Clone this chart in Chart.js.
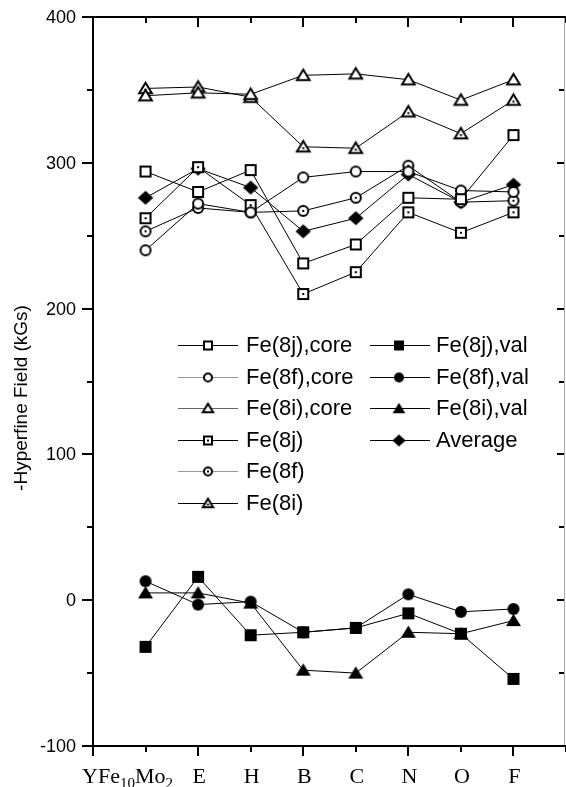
<!DOCTYPE html>
<html><head><meta charset="utf-8">
<script src="https://cdn.jsdelivr.net/npm/chart.js@4"></script>
<style>html,body{margin:0;padding:0;background:#fff;overflow:hidden;} canvas{display:block;}</style>
</head><body>
<canvas id="c" width="566" height="787" style="width:566px;height:787px"></canvas>
<script>
// ---- data ----
const categories = ['YFe10Mo2','E','H','B','C','N','O','F'];
const xPositions = [1,2,3,4,5,6,7,8];
const yTickValues = [-100,0,100,200,300,400];
const fe8jCore = [294, 280, 295, 231, 244, 276, 275, 319];
const fe8fCore = [240, 272, 266, 290, 294, 294, 281, 280];
const fe8iCore = [346, 348, 347, 360, 361, 357, 343, 357];
const fe8j     = [262, 297, 271, 210, 225, 266, 252, 266];
const fe8f     = [253, 269, 266, 267, 276, 298, 273, 274];
const fe8i     = [351, 352, 345, 311, 310, 335, 320, 343];
const fe8jVal  = [-32, 16, -24, -22, -19, -9, -23, -54];
const fe8fVal  = [13, -3, -1, -22, -19, 4, -8, -6];
const fe8iVal  = [5, 5, -2, -48, -50, -22, -23, -14];
const average  = [276, 296, 283, 253, 262, 292, 273, 285];
const seriesLabels = ['Fe(8j),core','Fe(8f),core','Fe(8i),core','Fe(8j)','Fe(8f)','Fe(8i)',
                      'Fe(8j),val','Fe(8f),val','Fe(8i),val','Average'];

// ---- markers ----
function makeMarker(shape, variant, sz){
  const S = Math.ceil(sz + 6);
  const c = document.createElement('canvas'); c.width = S; c.height = S;
  const g = c.getContext('2d');
  const cx = S/2, cy = S/2, r = sz/2;
  g.beginPath();
  if (shape === 'square') g.rect(cx-r, cy-r, sz, sz);
  else if (shape === 'circle') g.arc(cx, cy, r, 0, Math.PI*2);
  else if (shape === 'triangle') { g.moveTo(cx, cy-r*1.05); g.lineTo(cx+r*1.15, cy+r*0.85); g.lineTo(cx-r*1.15, cy+r*0.85); g.closePath(); }
  else if (shape === 'diamond') { g.moveTo(cx, cy-r*1.0); g.lineTo(cx+r*1.1, cy); g.lineTo(cx, cy+r*1.0); g.lineTo(cx-r*1.1, cy); g.closePath(); }
  if (variant === 'fill') { g.fillStyle = '#000'; g.fill(); }
  else {
    g.fillStyle = '#fff'; g.fill();
    g.lineWidth = 2; g.strokeStyle = '#000'; g.lineJoin = 'miter'; g.stroke();
    if (variant === 'dot') {
      g.fillStyle = '#000';
      const dy = shape === 'triangle' ? r*0.25 : 0;
      g.fillRect(cx-1, cy-1+dy, 2, 2);
    }
  }
  return c;
}
const styles = [
  ['square','open',10,'#000'], ['circle','open',10,'#999'], ['triangle','open',11,'#666'],
  ['square','dot',10,'#000'], ['circle','dot',10,'#999'], ['triangle','dot',11,'#000'],
  ['square','fill',12,'#000'], ['circle','fill',12,'#000'], ['triangle','fill',13,'#000'], ['diamond','fill',14,'#000']
];
const seriesData = [fe8jCore, fe8fCore, fe8iCore, fe8j, fe8f, fe8i, fe8jVal, fe8fVal, fe8iVal, average];
const pointImgs = styles.map(s => makeMarker(s[0], s[1], s[2]));
const legendImgs = styles.map(s => makeMarker(s[0], s[1], s[2]-2));

const datasets = seriesData.map((arr, i) => ({
  label: seriesLabels[i],
  data: arr.map((v, j) => ({x: xPositions[j], y: v})),
  borderColor: '#000', borderWidth: 1, tension: 0,
  pointStyle: pointImgs[i], pointRadius: 6, pointHoverRadius: 6,
  fill: false
}));

// ---- custom drawing: axes, ticks, labels, legend ----
const decor = {
  id: 'decor',
  afterDraw(chart) {
    const ctx = chart.ctx, a = chart.chartArea;
    const xs = chart.scales.x, ys = chart.scales.y;
    const rx = a.right - 2;
    ctx.save();
    // frame
    ctx.strokeStyle = '#aaa'; ctx.lineWidth = 1;
    ctx.beginPath(); ctx.moveTo(rx + 0.5, a.top); ctx.lineTo(rx + 0.5, a.bottom); ctx.stroke();
    ctx.strokeStyle = '#000'; ctx.lineWidth = 2;
    ctx.beginPath();
    ctx.moveTo(a.left, a.top); ctx.lineTo(a.right, a.top);
    ctx.moveTo(a.left, a.bottom); ctx.lineTo(a.right, a.bottom);
    ctx.moveTo(a.left, a.top-1); ctx.lineTo(a.left, a.bottom+1);
    ctx.stroke();
    // y ticks + labels
    ctx.lineWidth = 2;
    ctx.font = '18px "Liberation Sans"'; ctx.textAlign = 'right'; ctx.textBaseline = 'middle'; ctx.fillStyle = '#000';
    for (let v = -100; v <= 400; v += 50) {
      const y = Math.round(ys.getPixelForValue(v));
      const major = yTickValues.includes(v);
      ctx.strokeStyle = '#000';
      ctx.beginPath(); ctx.moveTo(a.left - (major ? 11 : 6), y); ctx.lineTo(a.left, y); ctx.stroke();
      ctx.beginPath(); ctx.moveTo(rx, y); ctx.lineTo(rx - (major ? 7 : 5), y); ctx.stroke();
      if (major) ctx.fillText(String(v), a.left - 17, y + 1);
    }
    // x ticks
    for (let v = 0; v <= 9; v++) {
      const x = Math.round(xs.getPixelForValue(v));
      const major = v % 2 === 0;
      ctx.beginPath(); ctx.moveTo(x, a.bottom); ctx.lineTo(x, a.bottom + (major ? 10 : 6)); ctx.stroke();
      ctx.beginPath(); ctx.moveTo(x, a.top); ctx.lineTo(x, a.top + (major ? 10 : 6)); ctx.stroke();
    }
    // x labels (serif, with subscripts)
    ctx.fillStyle = '#000'; ctx.textBaseline = 'alphabetic';
    const base = 783;
    const big = '22px "Liberation Serif"', small = '15px "Liberation Serif"';
    categories.forEach((lab, i) => {
      const px = xs.getPixelForValue(xPositions[i]);
      if (lab === 'YFe10Mo2') {
        const parts = [['YFe',big,0],['10',small,5],['Mo',big,0],['2',small,5]];
        let w = 0; parts.forEach(p => { ctx.font = p[1]; w += ctx.measureText(p[0]).width; });
        let x = px - 18 - w/2;
        ctx.textAlign = 'left';
        parts.forEach(p => { ctx.font = p[1]; ctx.fillText(p[0], x, base + p[2]); x += ctx.measureText(p[0]).width; });
      } else {
        ctx.font = big; ctx.textAlign = 'center'; ctx.fillText(lab, px + 1, base);
      }
    });
    // y title
    ctx.save();
    ctx.translate(22, 398); ctx.rotate(-Math.PI/2);
    ctx.font = '19px "Liberation Sans"'; ctx.textAlign = 'center'; ctx.textBaseline = 'middle';
    ctx.fillText('-Hyperfine Field (kGs)', 0, 0);
    ctx.restore();
    // legend
    const rows = [345, 376.5, 408, 439.5, 471, 502.5];
    ctx.font = '22px "Liberation Sans"'; ctx.textAlign = 'left'; ctx.textBaseline = 'middle';
    for (let i = 0; i < 10; i++) {
      const col = i < 6 ? 0 : 1;
      const row = i < 6 ? i : i - 6;
      const y = rows[row];
      const x0 = col === 0 ? 178 : 370, x1 = col === 0 ? 238 : 430, mx = col === 0 ? 208 : 399, tx = col === 0 ? 246 : 436;
      ctx.strokeStyle = styles[i][3]; ctx.lineWidth = 1;
      ctx.beginPath(); ctx.moveTo(x0, Math.round(y)+0.5); ctx.lineTo(x1, Math.round(y)+0.5); ctx.stroke();
      const img = legendImgs[i];
      ctx.drawImage(img, mx - img.width/2, Math.round(y) + 0.5 - img.height/2);
      ctx.fillStyle = '#000';
      ctx.fillText(seriesLabels[i], tx, y + 1);
    }
    ctx.restore();
  }
};

new Chart(document.getElementById('c'), {
  type: 'line',
  data: { datasets },
  options: {
    responsive: false, maintainAspectRatio: false, animation: false, devicePixelRatio: 1,
    layout: { autoPadding: false, padding: { left: 93, right: 0, top: 17, bottom: 41 } },
    plugins: { legend: { display: false }, tooltip: { enabled: false } },
    scales: {
      x: { type: 'linear', min: 0, max: 9, display: false },
      y: { type: 'linear', min: -100, max: 400, display: false }
    }
  },
  plugins: [decor]
});
</script>
</body></html>
